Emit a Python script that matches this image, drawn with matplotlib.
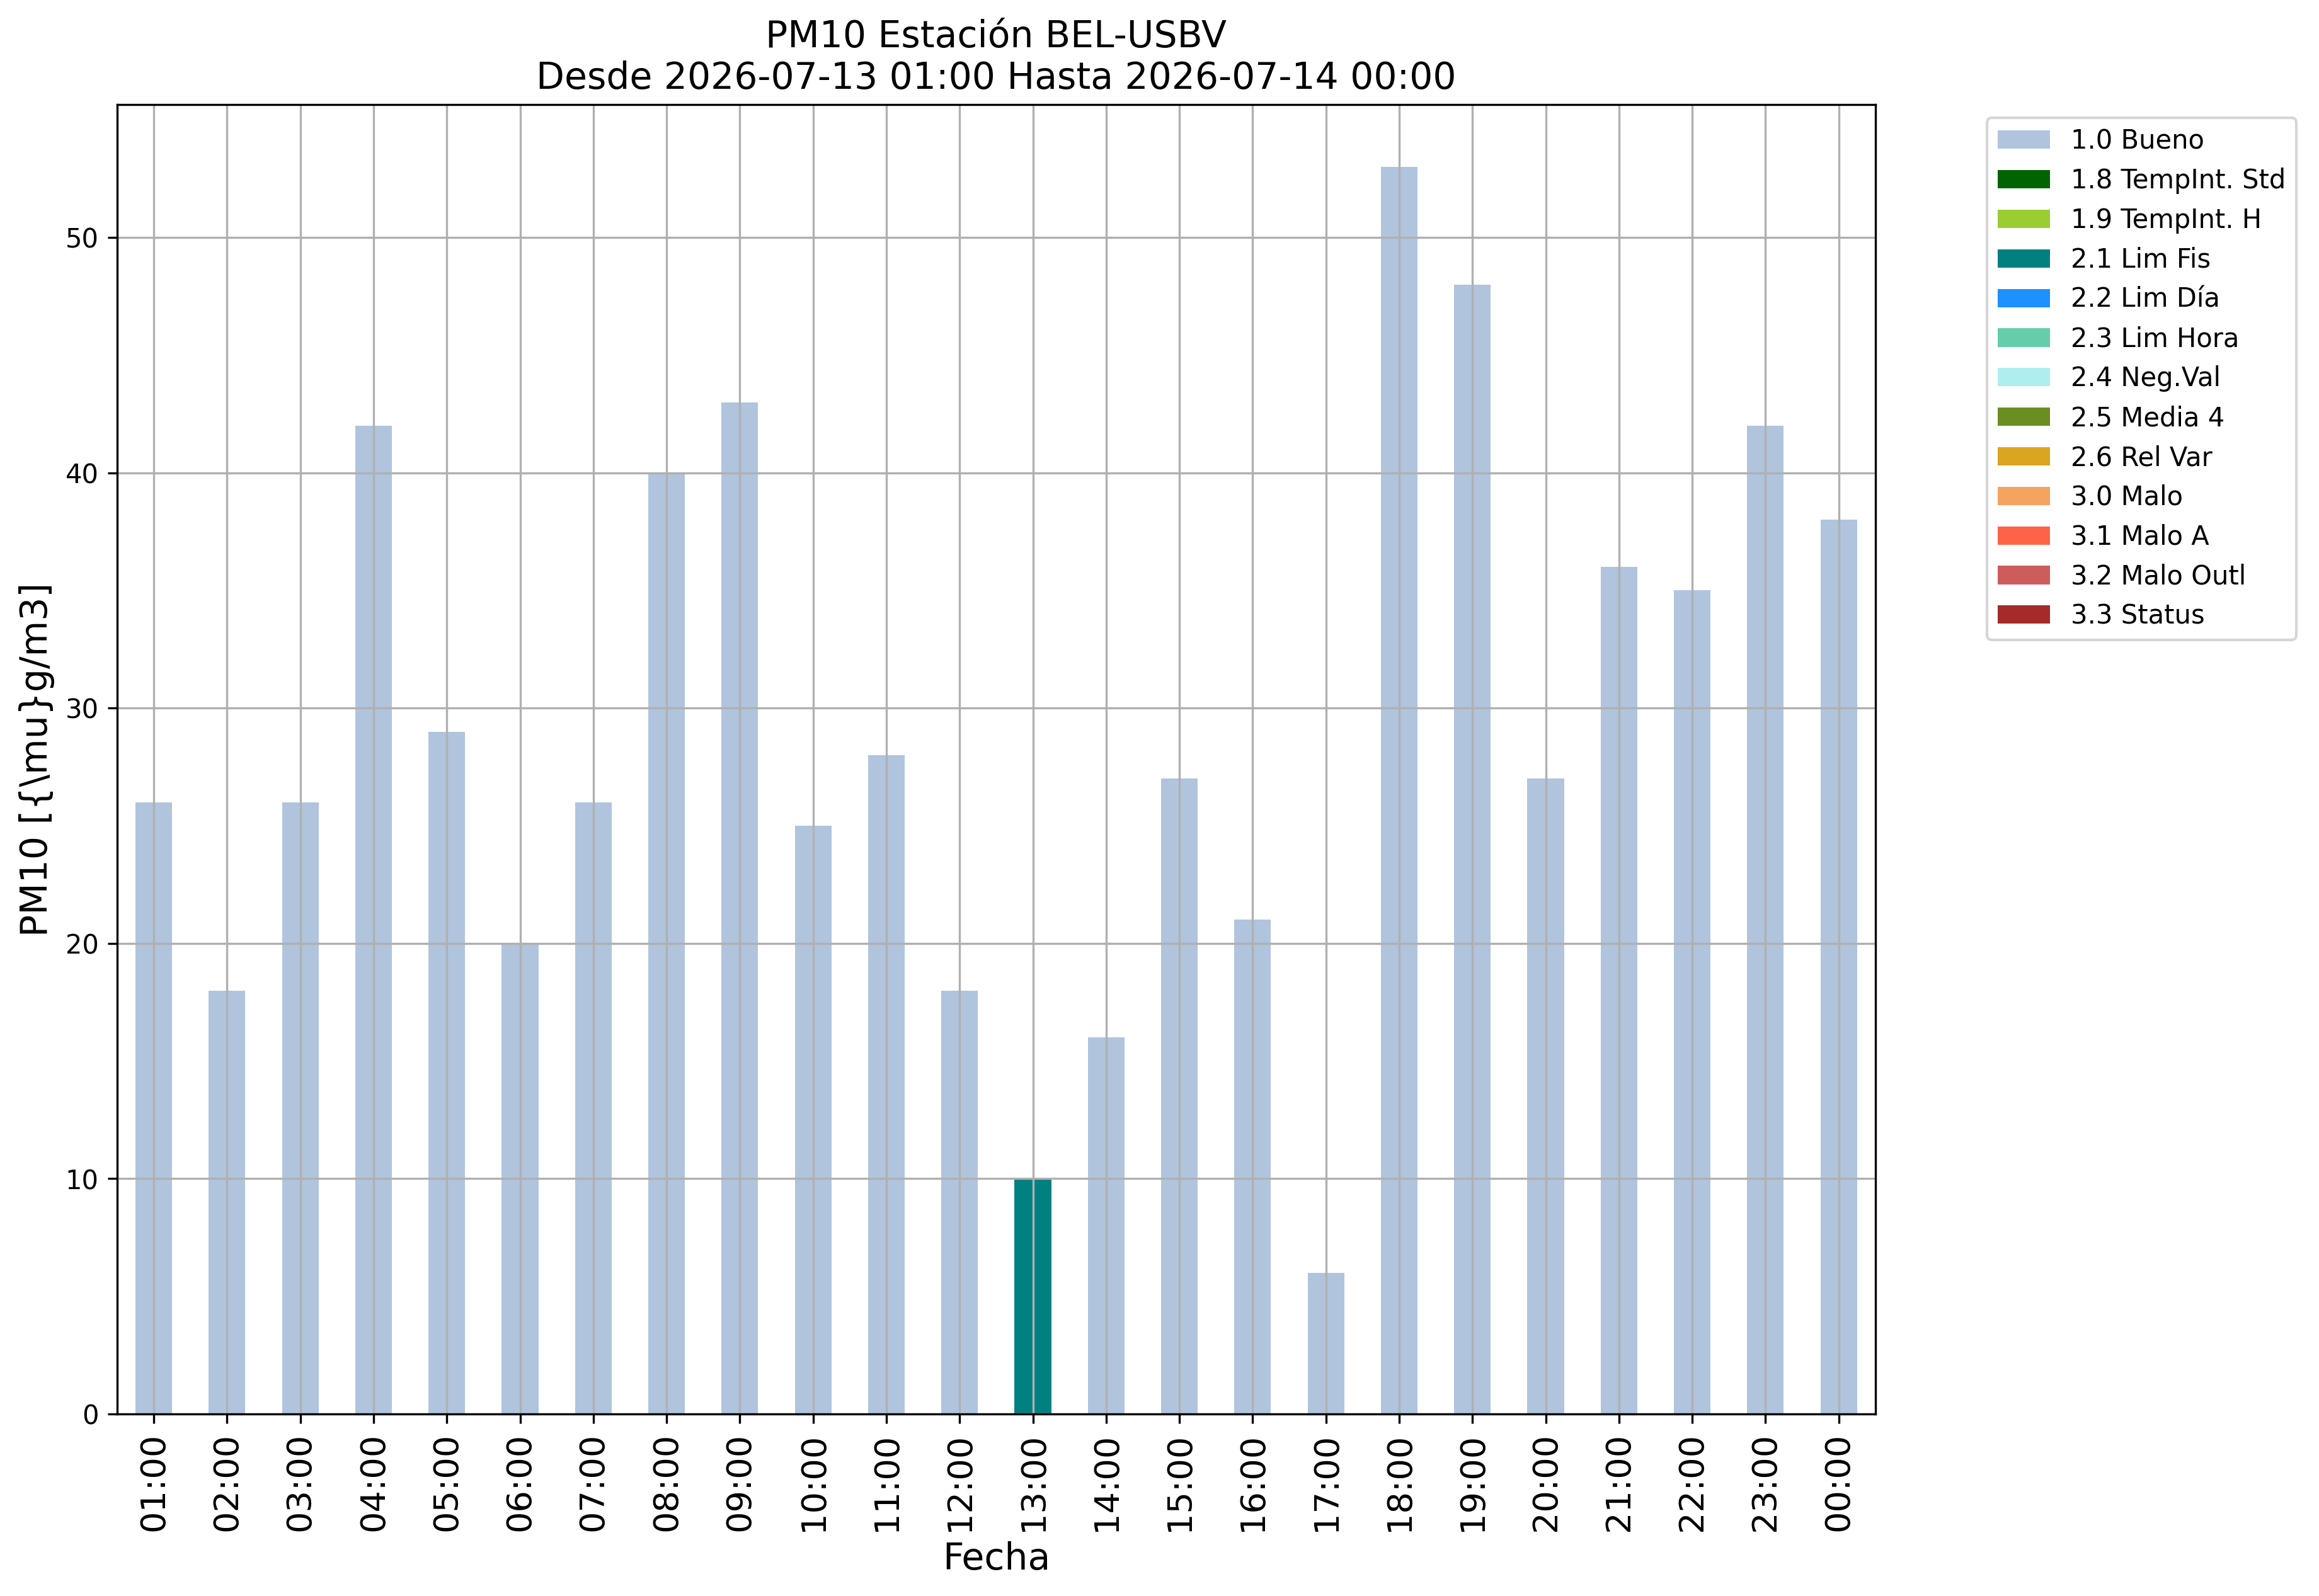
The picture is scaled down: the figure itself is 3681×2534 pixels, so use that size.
import matplotlib
matplotlib.use("Agg")
import matplotlib.pyplot as plt
import pandas as pd

hours = ["01:00", "02:00", "03:00", "04:00", "05:00", "06:00", "07:00", "08:00",
         "09:00", "10:00", "11:00", "12:00", "13:00", "14:00", "15:00", "16:00",
         "17:00", "18:00", "19:00", "20:00", "21:00", "22:00", "23:00", "00:00"]
pm10 = [26, 18, 26, 42, 29, 20, 26, 40, 43, 25, 28, 18,
        10, 16, 27, 21, 6, 53, 48, 27, 36, 35, 42, 38]
flag = ["1.0"] * 12 + ["2.1"] + ["1.0"] * 11

flag_codes = ["1.0", "1.8", "1.9", "2.1", "2.2", "2.3", "2.4",
              "2.5", "2.6", "3.0", "3.1", "3.2", "3.3"]
flag_names = ["1.0 Bueno", "1.8 TempInt. Std", "1.9 TempInt. H", "2.1 Lim Fis",
              "2.2 Lim Día", "2.3 Lim Hora", "2.4 Neg.Val", "2.5 Media 4",
              "2.6 Rel Var", "3.0 Malo", "3.1 Malo A", "3.2 Malo Outl", "3.3 Status"]
flag_colors = ["lightsteelblue", "darkgreen", "yellowgreen", "teal", "dodgerblue",
               "mediumaquamarine", "paleturquoise", "olivedrab", "goldenrod",
               "sandybrown", "tomato", "indianred", "brown"]

# one column per flag, value only where the hour carries that flag
df = pd.DataFrame(index=hours)
for code, name in zip(flag_codes, flag_names):
    df[name] = [v if f == code else 0 for v, f in zip(pm10, flag)]

fig = plt.figure(figsize=(12.273, 8.447), dpi=300)
ax = fig.add_subplot(111)
df.plot.bar(stacked=True, color=flag_colors, ax=ax, legend=False)

ax.set_title("PM10 Estación BEL-USBV\nDesde 2026-07-13 01:00 Hasta 2026-07-14 00:00", fontsize=14)
ax.set_ylabel("PM10 [{\\mu}g/m3]", fontsize=14)
ax.set_xlabel("Fecha", fontsize=14)
ax.tick_params(axis="x", labelsize=13, labelrotation=90)
ax.tick_params(axis="y", labelsize=10)
ax.grid(True)
ax.legend(bbox_to_anchor=(1.056, 1), loc="upper left", fontsize=10)

fig.subplots_adjust(left=0.0505, right=0.8085, bottom=0.114, top=0.9345)
fig.savefig("out.png", dpi=300)
plt.close(fig)
